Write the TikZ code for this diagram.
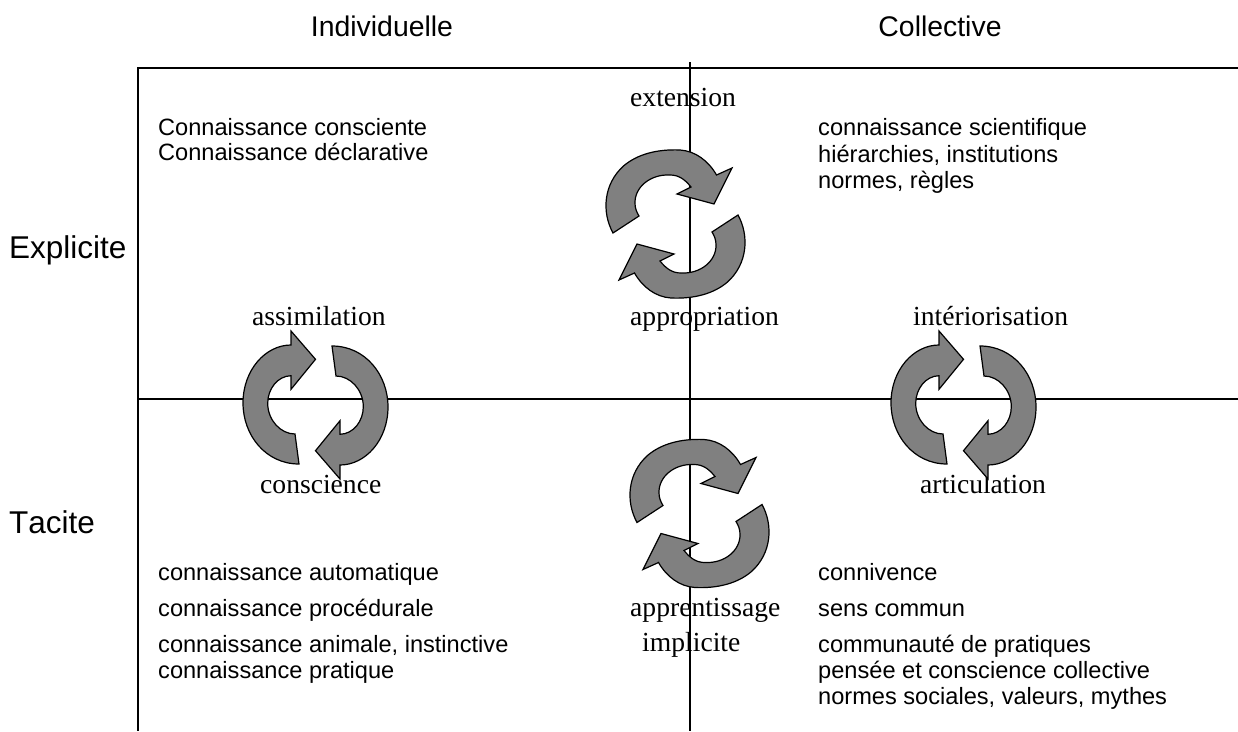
\documentclass[tikz,border=0pt]{standalone}
\usepackage{fontspec}
\setmainfont{Liberation Sans}
\newfontfamily\labelfont{Liberation Serif}
\tikzset{
    axis/.style={draw=black, line width=1.2pt},
    cyclearrow/.style={draw=black, fill=black!50, line width=1.2pt, line join=miter},
    headtext/.style={anchor=base, inner sep=0pt, font=\fontsize{28.4}{28.4}\selectfont},
    sidetext/.style={anchor=base west, inner sep=0pt, font=\fontsize{31.5}{31.5}\selectfont\addfontfeature{Kerning=Off}},
    bodytext/.style={anchor=base west, inner sep=0pt, font=\fontsize{23.6}{23.6}\selectfont},
    cycletext/.style={anchor=base west, inner sep=0pt, font=\labelfont\fontsize{27.6}{27.6}\selectfont},
    % pair of arrows, one on top of the other
    vpair/.pic={
        \foreach \turn in {0,180} {
            \draw[cyclearrow, rotate=\turn] (-62.5,9) .. controls (-74,-12) and (-72,-40) .. (-52,-58)
                .. controls (-38,-70) and (-18,-75) .. (4.5,-74)
                .. controls (20,-73) and (33,-63) .. (41,-49)
                -- (56.5,-56) -- (38.5,-20) -- (1.5,-30) -- (15.5,-37)
                .. controls (9,-45) and (3,-49) .. (-5.5,-49)
                .. controls (-25,-50) and (-41,-37) .. (-40.5,-20.7)
                .. controls (-40.5,-16) and (-39,-12) .. (-36.5,-8) -- cycle;
        }
    },
    % pair of arrows, side by side
    hpair/.pic={
        \foreach \turn in {0,180} {
            \draw[cyclearrow, rotate=\turn] (-16.5,59) .. controls (-50,59) and (-72.5,30) .. (-72.5,-2)
                .. controls (-72.5,-35) and (-50,-60) .. (-24.5,-60)
                -- (-24.5,-74) -- (0,-45.7) -- (-24.5,-15.7) -- (-24.5,-29.3)
                .. controls (-38,-29) and (-47.8,-16) .. (-47.8,-1.7)
                .. controls (-47.8,15) and (-35,29) .. (-20.5,29) -- cycle;
        }
    }
}
\begin{document}
\begin{tikzpicture}[x=1pt, y=-1pt]
        \useasboundingbox (0,0) rectangle (1238,731);

        \draw[axis] (1238,68) -- (138,68) -- (138,731);
        \draw[axis] (138,399) -- (1238,399);
        \draw[axis] (690,62) -- (690,731);

        \node[cycletext] (extension) at (630,106) {extension};
        \node[cycletext] (appropriation) at (630,325) {appropriation};
        \node[cycletext] (assimilation) at (252,325) {assimilation};
        \node[cycletext] (interiorisation) at (913,325) {intériorisation};
        \node[cycletext] (conscience) at (260,493) {conscience};
        \node[cycletext] (articulation) at (920,493) {articulation};
        \node[cycletext] (apprentissage) at (630,616) {apprentissage};
        \node[cycletext] (implicite) at (642,651) {implicite};

        \pic at (675.5,224) {vpair};
        \pic at (699.5,513.5) {vpair};
        \pic at (315.5,405) {hpair};
        \pic at (963.5,405) {hpair};

        \node[headtext] (individuelle) at (382,36) {Individuelle};
        \node[headtext] (collective) at (940,36) {Collective};
        \node[sidetext] (explicite) at (9,258) {Explicite};
        \node[sidetext] (tacite) at (9,533) {Tacite};

        \node[bodytext] (consciente) at (158,135) {Connaissance consciente};
        \node[bodytext] (declarative) at (158,160) {Connaissance déclarative};
        \node[bodytext] (scientifique) at (818,135) {connaissance scientifique};
        \node[bodytext] (hierarchies) at (818,162) {hiérarchies, institutions};
        \node[bodytext] (normes) at (818,188) {normes, règles};

        \node[bodytext] (automatique) at (158,580) {connaissance automatique};
        \node[bodytext] (procedurale) at (158,616) {connaissance procédurale};
        \node[bodytext] (animale) at (158,652) {connaissance animale, instinctive};
        \node[bodytext] (pratique) at (158,678) {connaissance pratique};

        \node[bodytext] (connivence) at (818,580) {connivence};
        \node[bodytext] (sens) at (818,616) {sens commun};
        \node[bodytext] (communaute) at (818,652) {communauté de pratiques};
        \node[bodytext] (pensee) at (818,678) {pensée et conscience collective};
        \node[bodytext] (sociales) at (818,704) {normes sociales, valeurs, mythes};
    \end{tikzpicture}
\end{document}
